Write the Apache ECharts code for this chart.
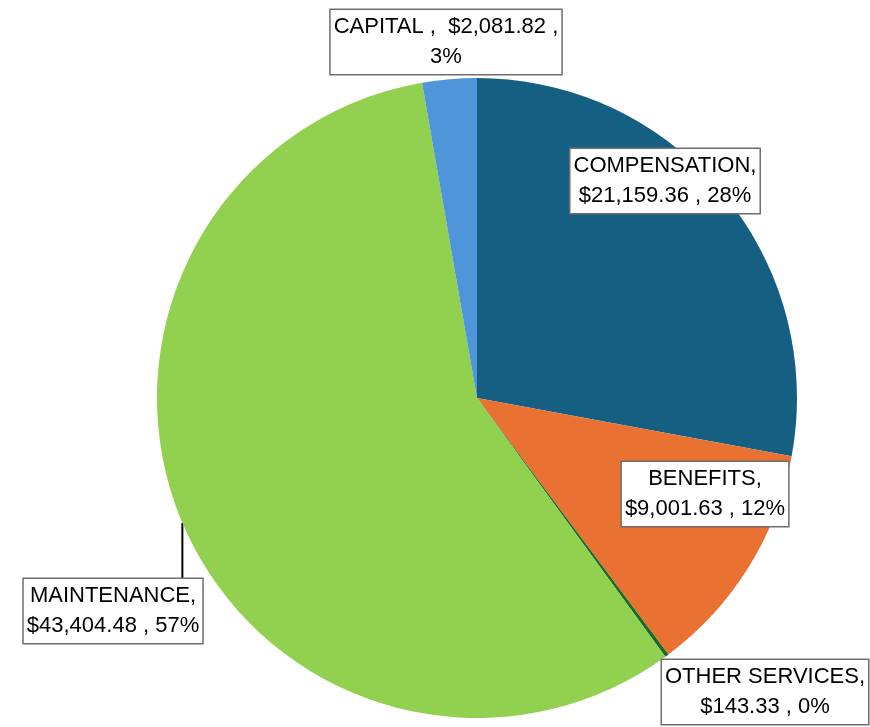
<!DOCTYPE html>
<html>
<head>
<meta charset="utf-8">
<script src="https://cdn.jsdelivr.net/npm/echarts@6/dist/echarts.min.js"></script>
<style>
  html, body { margin: 0; padding: 0; background: #fff; }
  #chart { width: 870px; height: 727px; }
</style>
</head>
<body>
<div id="chart"></div>
<script>
// data
const categories = ['COMPENSATION', 'BENEFITS', 'OTHER SERVICES', 'MAINTENANCE', 'CAPITAL'];
const amounts = [21159.36, 9001.63, 143.33, 43404.48, 2081.82];
const colors = ['#156082', '#e97132', '#196b24', '#92d050', '#4e95d9'];

// where each label box sits (center of box)
const labelPos = [[665, 181], [705, 494], [765, 692], [113, 611], [446, 42]];

const money = v => '$' + v.toLocaleString('en-US', { minimumFractionDigits: 2, maximumFractionDigits: 2 });

const chart = echarts.init(document.getElementById('chart'));
chart.setOption({
  animation: false,
  series: [{
    type: 'pie',
    center: [477, 398],
    radius: 320,
    startAngle: 90,
    clockwise: true,
    percentPrecision: 0,
    avoidLabelOverlap: false,
    data: categories.map((name, i) => ({
      name: name,
      value: amounts[i],
      itemStyle: { color: colors[i] }
    })),
    label: {
      show: true,
      position: 'outside',
      fontFamily: 'Liberation Sans',
      fontSize: 22,
      lineHeight: 30,
      color: '#000',
      align: 'center',
      backgroundColor: '#fff',
      borderColor: '#6e6e6e',
      borderWidth: 1.5,
      padding: [2, 3, 2, 3],
      formatter: p => {
        if (p.name === 'CAPITAL') {
          return p.name + ' ,  ' + money(p.value) + ' ,\n' + Math.round(p.percent) + '%';
        }
        return p.name + ',\n' + money(p.value) + ' , ' + Math.round(p.percent) + '%';
      }
    },
    labelLine: { show: false },
    labelLayout: p => ({
      x: labelPos[p.dataIndex][0],
      y: labelPos[p.dataIndex][1],
      align: 'center',
      verticalAlign: 'middle'
    })
  }]
});

// leader line for MAINTENANCE: straight down from the slice's mid point on the rim to its label box
const idx = categories.indexOf('MAINTENANCE');
const lay = chart.getModel().getSeriesByIndex(0).getData().getItemLayout(idx);
const mid = (lay.startAngle + lay.endAngle) / 2;
const ax = lay.cx + lay.r * Math.cos(mid);
const ay = lay.cy + lay.r * Math.sin(mid);
const boxTop = labelPos[idx][1] - 33;
chart.setOption({
  graphic: [{
    type: 'line',
    shape: { x1: ax, y1: ay, x2: ax, y2: boxTop },
    style: { stroke: '#000', lineWidth: 2 },
    z: 1
  }]
});
</script>
</body>
</html>
